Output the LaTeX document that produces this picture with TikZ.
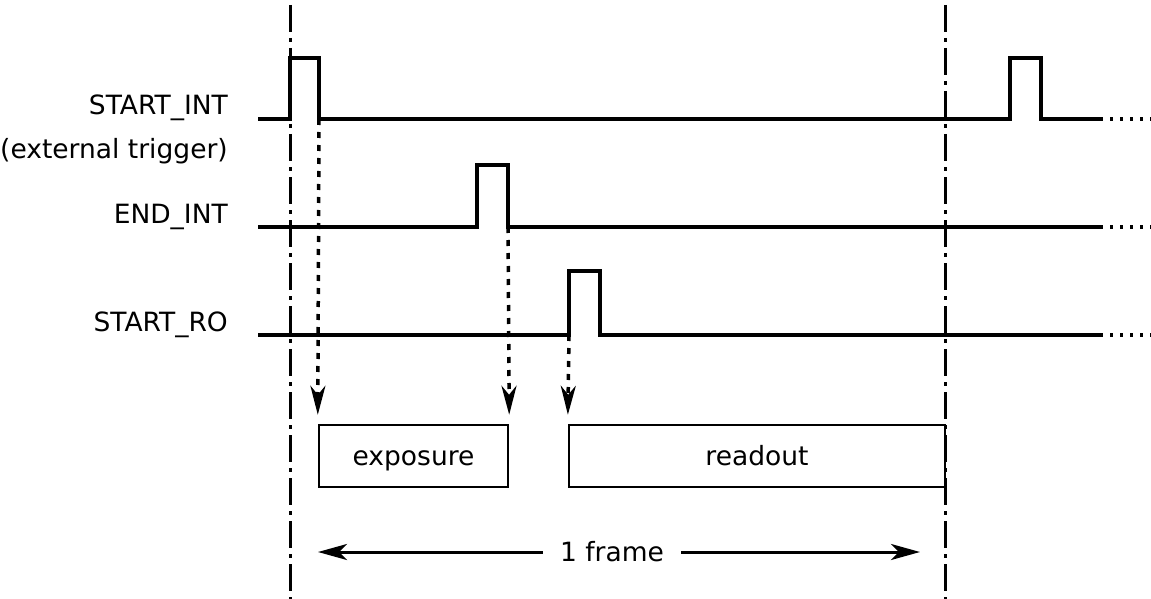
\documentclass[tikz,border=0pt]{standalone}
\usepackage{fontspec}
\setmainfont{DejaVu Sans}
\usetikzlibrary{arrows.meta}
\begin{document}
\begin{tikzpicture}[x=1pt,y=-1pt,
  sig/.style={line width=4pt, line join=miter},
  dotext/.style={line width=4pt, dash pattern=on 3pt off 7pt},
  dashdot/.style={line width=3pt, dash pattern=on 27pt off 6pt on 4pt off 6pt},
  box/.style={draw, line width=2.5pt, inner sep=0pt, text height=19pt, text depth=0pt, font=\fontsize{26.5}{30}\selectfont},
  lbl/.style={inner sep=0pt, anchor=base east, font=\fontsize{26.5}{30}\selectfont},
  darrow/.style={line width=3.5pt, dash pattern=on 6pt off 7pt, -{Stealth[length=29pt,width=15pt,inset=9pt]}},
  farrow/.style={line width=3pt, -{Stealth[length=29pt,width=16pt,inset=8pt]}}
]
\useasboundingbox (0,0) rectangle (1151,599);

% dash-dot frame boundaries
\draw[dashdot] (290,5) -- (290,599);
\draw[dashdot] (945,5) -- (945,599);

% labels
\node[lbl] (l1) at (228,115) {START\_INT};
\node[lbl] (l1b) at (228,158) {(external trigger)};
\node[lbl] (l2) at (228,223) {END\_INT};
\node[lbl] (l3) at (228,331) {START\_RO};

% START_INT signal
\draw[sig] (258,119) -- (290,119) -- (290,58) -- (319,58) -- (319,119)
  coordinate (si) -- (1010,119) -- (1010,58) -- (1041,58) -- (1041,119) -- (1100,119) coordinate (sie);
\coordinate (sid) at (1151,119);
\draw[dotext] (sie) -- (sid);

% END_INT signal
\draw[sig] (258,227) -- (477,227) -- (477,165) -- (508,165) -- (508,227)
  coordinate (ei) -- (1100,227) coordinate (eie);
\coordinate (eid) at (1151,227);
\draw[dotext] (eie) -- (eid);

% START_RO signal
\draw[sig] (258,335) -- (569,335) coordinate (sr) -- (569,271) -- (600,271) -- (600,335) -- (1100,335) coordinate (sre);
\coordinate (srd) at (1151,335);
\draw[dotext] (sre) -- (srd);

% boxes
\node[box, minimum width=189pt, minimum height=62pt] (exp) at (413.5,456) {exposure};
\node[box, minimum width=376pt, minimum height=62pt] (ro) at (757,456) {readout};

% dashed arrows
\draw[darrow, shorten >=9pt] (si) -- (exp.north west);
\draw[darrow, shorten >=9pt] (ei) -- (exp.north east);
\draw[darrow, shorten >=9pt] (sr) -- (ro.north west);

% frame arrow
\node[inner ysep=0pt, inner xsep=17pt, font=\fontsize{26.5}{30}\selectfont] (fr) at (612,552) {1 frame};
\coordinate (fl) at (318,552);
\coordinate (frt) at (920,552);
\draw[farrow] (fr.west) -- (fl);
\draw[farrow] (fr.east) -- (frt);
\end{tikzpicture}
\end{document}
